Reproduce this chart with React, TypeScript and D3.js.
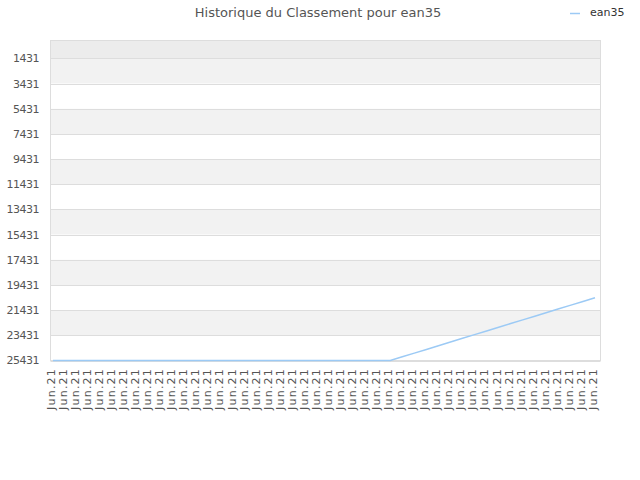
import React, { useEffect, useRef } from 'react';
import * as d3 from 'd3';

const title = 'Historique du Classement pour ean35';
const seriesName = 'ean35';

// 46 daily points, all labelled "Jun.21"
const dates: string[] = [
  'Jun.21', 'Jun.21', 'Jun.21', 'Jun.21', 'Jun.21', 'Jun.21', 'Jun.21', 'Jun.21', 'Jun.21', 'Jun.21',
  'Jun.21', 'Jun.21', 'Jun.21', 'Jun.21', 'Jun.21', 'Jun.21', 'Jun.21', 'Jun.21', 'Jun.21', 'Jun.21',
  'Jun.21', 'Jun.21', 'Jun.21', 'Jun.21', 'Jun.21', 'Jun.21', 'Jun.21', 'Jun.21', 'Jun.21', 'Jun.21',
  'Jun.21', 'Jun.21', 'Jun.21', 'Jun.21', 'Jun.21', 'Jun.21', 'Jun.21', 'Jun.21', 'Jun.21', 'Jun.21',
  'Jun.21', 'Jun.21', 'Jun.21', 'Jun.21', 'Jun.21', 'Jun.21',
];

const ranks: number[] = [
  25431, 25431, 25431, 25431, 25431, 25431, 25431, 25431, 25431, 25431,
  25431, 25431, 25431, 25431, 25431, 25431, 25431, 25431, 25431, 25431,
  25431, 25431, 25431, 25431, 25431, 25431, 25431, 25431, 25431, 25137,
  24844, 24550, 24257, 23963, 23670, 23376, 23083, 22789, 22496, 22202,
  21909, 21615, 21322, 21028, 20735, 20441,
];

const yTicks: number[] = [1431, 3431, 5431, 7431, 9431, 11431, 13431, 15431, 17431, 19431, 21431, 23431, 25431];

const App: React.FC = () => {
  const svgRef = useRef<SVGSVGElement | null>(null);

  useEffect(() => {
    if (!svgRef.current) return;
    const width = 640;
    const height = 480;
    const plot = { left: 50.5, right: 600.5, top: 40.5, bottom: 360.5 };
    const font = 'DejaVu Sans, sans-serif';
    const lineColor = '#9ccaf5';

    const svg = d3.select(svgRef.current).attr('width', width).attr('height', height);
    svg.selectAll('*').remove();

    const x = d3
      .scalePoint<number>()
      .domain(d3.range(dates.length))
      .range([53, 595]);

    const y = d3.scaleLinear().domain([1, 25431]).range([plot.top, plot.bottom]);

    // bands between ticks
    const edges = [1, ...yTicks];
    const bands = svg.append('g');
    edges.slice(0, -1).forEach((v, i) => {
      const fill = i === 0 ? '#ececec' : i % 2 === 1 ? '#f2f2f2' : '#ffffff';
      bands
        .append('rect')
        .attr('x', plot.left)
        .attr('y', y(v))
        .attr('width', plot.right - plot.left)
        .attr('height', y(edges[i + 1]) - y(v))
        .attr('fill', fill);
    });

    // grid lines
    svg
      .append('g')
      .selectAll('line')
      .data(yTicks)
      .enter()
      .append('line')
      .attr('x1', plot.left)
      .attr('x2', plot.right)
      .attr('y1', (d) => Math.round(y(d)) + 0.5)
      .attr('y2', (d) => Math.round(y(d)) + 0.5)
      .attr('stroke', '#dddddd')
      .attr('stroke-width', 1);

    // frame
    svg
      .append('rect')
      .attr('x', plot.left)
      .attr('y', plot.top)
      .attr('width', plot.right - plot.left)
      .attr('height', plot.bottom - plot.top)
      .attr('fill', 'none')
      .attr('stroke', '#dddddd');

    // y labels
    svg
      .append('g')
      .selectAll('text')
      .data(yTicks)
      .enter()
      .append('text')
      .attr('x', 39)
      .attr('y', (d) => y(d))
      .attr('dy', '0.35em')
      .attr('text-anchor', 'end')
      .attr('font-family', font)
      .attr('font-size', 11)
      .attr('letter-spacing', -0.5)
      .attr('fill', '#555')
      .text((d) => d);

    // x labels
    svg
      .append('g')
      .selectAll('text')
      .data(dates)
      .enter()
      .append('text')
      .attr('transform', (d, i) => `translate(${x(i)! - 2},368) rotate(-90)`)
      .attr('dy', '0.35em')
      .attr('text-anchor', 'end')
      .attr('font-family', font)
      .attr('font-size', 11)
      .attr('letter-spacing', 1.2)
      .attr('fill', '#555')
      .text((d) => d);

    // line
    const line = d3
      .line<number>()
      .x((d, i) => x(i)!)
      .y((d) => y(d));

    svg
      .append('path')
      .datum(ranks)
      .attr('d', line)
      .attr('fill', 'none')
      .attr('stroke', lineColor)
      .attr('stroke-width', 1.5);

    // title
    svg
      .append('text')
      .attr('x', 318)
      .attr('y', 17)
      .attr('text-anchor', 'middle')
      .attr('font-family', font)
      .attr('font-size', 13)
      .attr('fill', '#555')
      .text(title);

    // legend
    svg
      .append('line')
      .attr('x1', 570)
      .attr('x2', 580)
      .attr('y1', 13.5)
      .attr('y2', 13.5)
      .attr('stroke', lineColor)
      .attr('stroke-width', 1.5);

    svg
      .append('text')
      .attr('x', 590)
      .attr('y', 16)
      .attr('font-family', font)
      .attr('font-size', 11)
      .attr('fill', '#333')
      .text(seriesName);
  }, []);

  return (
    <div style={{ position: 'absolute', left: 0, top: 0 }}>
      <svg ref={svgRef}></svg>
    </div>
  );
};

export default App;
